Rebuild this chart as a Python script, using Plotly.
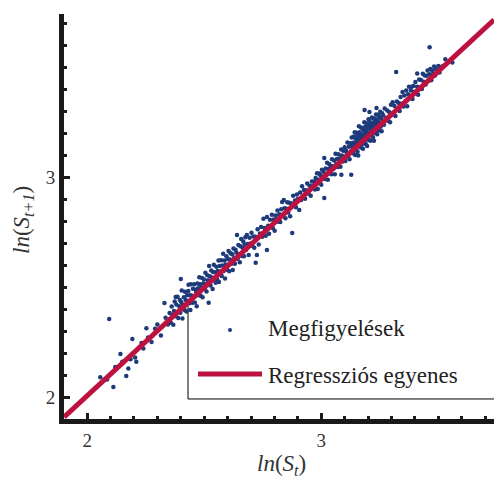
import plotly.graph_objects as go

# Observed log-prices: ln(S_t) and the next-period value ln(S_{t+1})
LN_ST = [
    2.056, 2.094, 2.112, 2.120, 2.142, 2.167, 2.176, 2.185, 2.193, 2.205,
    2.210, 2.232, 2.253, 2.260, 2.275, 2.290, 2.300, 2.315, 2.330, 2.335,
    2.345, 2.085, 2.150, 2.240,
    2.352, 2.357, 2.361, 2.364, 2.368, 2.371, 2.374, 2.377, 2.381, 2.384,
    2.386, 2.389, 2.393, 2.396, 2.398, 2.402, 2.404, 2.407, 2.409, 2.413,
    2.416, 2.418, 2.421, 2.424, 2.427, 2.429, 2.432, 2.436, 2.438, 2.441,
    2.443, 2.446, 2.449, 2.452, 2.455, 2.457, 2.460, 2.463, 2.466, 2.468,
    2.471, 2.474, 2.477, 2.479, 2.482, 2.485, 2.488, 2.491, 2.493, 2.496,
    2.499, 2.502, 2.505, 2.507, 2.510, 2.513, 2.516, 2.519, 2.521, 2.524,
    2.527, 2.530, 2.533, 2.536, 2.538, 2.541, 2.544, 2.547, 2.549, 2.378,
    2.400, 2.433,
    2.552, 2.555, 2.558, 2.561, 2.563, 2.566, 2.569, 2.572, 2.575, 2.578,
    2.581, 2.583, 2.586, 2.589, 2.592, 2.595, 2.598, 2.601, 2.604, 2.607,
    2.610, 2.613, 2.616, 2.619, 2.622, 2.625, 2.628, 2.631, 2.634, 2.637,
    2.640, 2.643, 2.646, 2.649, 2.652, 2.655, 2.658, 2.661, 2.664, 2.667,
    2.670, 2.673, 2.676, 2.679, 2.682, 2.686, 2.690, 2.694, 2.698, 2.702,
    2.706, 2.710, 2.714, 2.719, 2.720, 2.725, 2.728, 2.733, 2.738, 2.743,
    2.748, 2.753, 2.758, 2.763, 2.768, 2.768,
    2.773, 2.777, 2.781, 2.785, 2.789, 2.793, 2.797, 2.801, 2.805, 2.809,
    2.813, 2.817, 2.821, 2.825, 2.829, 2.833, 2.837, 2.840, 2.843, 2.847,
    2.851, 2.855, 2.859, 2.863, 2.867, 2.871, 2.876, 2.880, 2.884, 2.888,
    2.892, 2.896, 2.900, 2.906, 2.910, 2.914, 2.918, 2.922, 2.926, 2.931,
    2.935, 2.940, 2.945, 2.950, 2.955, 2.960, 2.965,
    2.970, 2.973, 2.976, 2.979, 2.982, 2.985, 2.988, 2.991, 2.994, 2.997,
    3.000, 3.003, 3.006, 3.009, 3.013, 3.013, 3.016, 3.019, 3.022, 3.025,
    3.028, 3.031, 3.034, 3.037, 3.040, 3.043, 3.046, 3.049, 3.052, 3.055,
    3.058, 3.061, 3.064, 3.067, 3.070, 3.073, 3.076, 3.079, 3.082, 3.085,
    3.086, 3.088, 3.091, 3.094, 3.097, 3.100, 3.103, 3.106, 3.109, 3.112,
    3.115, 3.118, 3.121, 3.124, 3.127, 3.128, 3.130, 3.133,
    3.136, 3.137, 3.139, 3.140, 3.142, 3.143, 3.145, 3.146, 3.148, 3.149,
    3.151, 3.152, 3.154, 3.155, 3.157, 3.158, 3.160, 3.161, 3.163, 3.164,
    3.166, 3.167, 3.169, 3.170, 3.172, 3.173, 3.175, 3.176, 3.178, 3.179,
    3.181, 3.182, 3.184, 3.185, 3.185, 3.187, 3.188, 3.190, 3.191, 3.193,
    3.194, 3.196, 3.197, 3.199, 3.200, 3.202, 3.203, 3.205, 3.206, 3.207,
    3.209, 3.210, 3.212, 3.213, 3.215, 3.216, 3.218, 3.219, 3.221, 3.222,
    3.224, 3.225, 3.227, 3.228, 3.230, 3.231, 3.233, 3.234, 3.236, 3.236,
    3.238, 3.239, 3.241, 3.243, 3.244, 3.246, 3.248, 3.250, 3.252, 3.254,
    3.256, 3.258, 3.260, 3.262, 3.265, 3.268, 3.271, 3.274,
    3.138, 3.144, 3.150, 3.156, 3.162, 3.168, 3.174, 3.180, 3.186, 3.192,
    3.198, 3.204, 3.210, 3.216, 3.222, 3.228, 3.234, 3.240, 3.246,
    3.278, 3.282, 3.286, 3.290, 3.294, 3.298, 3.302, 3.305, 3.309, 3.313,
    3.317, 3.320, 3.323, 3.327, 3.331, 3.335, 3.339, 3.343, 3.347, 3.351,
    3.355, 3.359, 3.363, 3.367, 3.371, 3.375, 3.379, 3.383, 3.386, 3.390,
    3.394, 3.398, 3.402, 3.406, 3.410, 3.410, 3.414, 3.418, 3.422, 3.426,
    3.430, 3.434, 3.438, 3.442, 3.446, 3.450, 3.454, 3.458, 3.462, 3.463,
    3.466, 3.470, 3.474, 3.478, 3.482, 3.486, 3.490, 3.495, 3.500, 3.505,
    3.510, 3.520, 3.530, 3.560,
]

LN_ST_NEXT = [
    2.090, 2.355, 2.045, 2.136, 2.195, 2.095, 2.130, 2.172, 2.264, 2.180,
    2.160, 2.245, 2.313, 2.270, 2.250, 2.310, 2.330, 2.280, 2.427, 2.360,
    2.330, 2.080, 2.160, 2.220,
    2.382, 2.337, 2.411, 2.374, 2.328, 2.391, 2.434, 2.367, 2.421, 2.384,
    2.456, 2.359, 2.413, 2.441, 2.383, 2.432, 2.484, 2.357, 2.419, 2.453,
    2.396, 2.478, 2.441, 2.389, 2.462, 2.434, 2.482, 2.426, 2.463, 2.396,
    2.513, 2.461, 2.429, 2.492, 2.455, 2.512, 2.430, 2.488, 2.476, 2.413,
    2.516, 2.494, 2.462, 2.544, 2.512, 2.460, 2.498, 2.541, 2.453, 2.516,
    2.534, 2.492, 2.565, 2.512, 2.480, 2.553, 2.531, 2.429, 2.596, 2.549,
    2.507, 2.575, 2.543, 2.491, 2.568, 2.601, 2.539, 2.567, 2.519, 2.455,
    2.536, 2.510,
    2.592, 2.535, 2.573, 2.621, 2.523, 2.596, 2.569, 2.622, 2.550, 2.598,
    2.651, 2.573, 2.621, 2.539, 2.602, 2.640, 2.578, 2.626, 2.664, 2.572,
    2.625, 2.653, 2.606, 2.649, 2.577, 2.675, 2.633, 2.606, 2.669, 2.657,
    2.736, 2.628, 2.691, 2.649, 2.612, 2.685, 2.718, 2.641, 2.679, 2.707,
    2.640, 2.693, 2.726, 2.669, 2.736, 2.696, 2.645, 2.724, 2.698, 2.747,
    2.686, 2.730, 2.679, 2.729, 2.610, 2.645, 2.763, 2.693, 2.743, 2.773,
    2.728, 2.810, 2.768, 2.733, 2.818, 2.668,
    2.778, 2.742, 2.806, 2.775, 2.829, 2.768, 2.807, 2.756, 2.825, 2.809,
    2.848, 2.797, 2.831, 2.795, 2.854, 2.886, 2.827, 2.895, 2.858, 2.812,
    2.856, 2.885, 2.839, 2.883, 2.822, 2.881, 2.745, 2.915, 2.869, 2.893,
    2.862, 2.921, 2.900, 2.850, 2.930, 2.895, 2.958, 2.912, 2.941, 2.901,
    2.940, 2.970, 2.925, 2.960, 2.915, 2.980, 2.960,
    2.980, 2.943, 2.996, 2.969, 3.017, 2.945, 2.988, 3.016, 2.974, 3.007,
    2.965, 3.033, 3.001, 3.024, 3.086, 2.905, 2.991, 3.039, 3.012, 3.065,
    2.988, 3.036, 3.059, 3.017, 3.050, 3.013, 3.081, 3.049, 3.037, 3.075,
    3.013, 3.106, 3.059, 3.082, 3.045, 3.103, 3.066, 3.084, 3.047, 3.125,
    3.010, 3.098, 3.071, 3.119, 3.092, 3.135, 3.073, 3.121, 3.109, 3.157,
    3.095, 3.138, 3.081, 3.154, 3.117, 3.010, 3.180, 3.138,
    3.156, 3.107, 3.184, 3.140, 3.127, 3.203, 3.100, 3.176, 3.158, 3.124,
    3.201, 3.147, 3.189, 3.115, 3.172, 3.098, 3.185, 3.231, 3.153, 3.204,
    3.146, 3.172, 3.134, 3.225, 3.192, 3.148, 3.185, 3.221, 3.128, 3.179,
    3.211, 3.167, 3.249, 3.305, 3.155, 3.202, 3.228, 3.150, 3.216, 3.183,
    3.244, 3.141, 3.202, 3.234, 3.180, 3.262, 3.168, 3.225, 3.295, 3.202,
    3.249, 3.165, 3.222, 3.243, 3.190, 3.271, 3.208, 3.234, 3.181, 3.267,
    3.224, 3.165, 3.252, 3.213, 3.265, 3.201, 3.238, 3.284, 3.314, 3.216,
    3.258, 3.194, 3.251, 3.283, 3.234, 3.211, 3.273, 3.245, 3.297, 3.229,
    3.266, 3.208, 3.290, 3.252, 3.280, 3.238, 3.311, 3.259,
    3.133, 3.156, 3.132, 3.164, 3.150, 3.186, 3.166, 3.192, 3.168, 3.200,
    3.186, 3.222, 3.202, 3.228, 3.204, 3.236, 3.222, 3.258, 3.238,
    3.268, 3.302, 3.256, 3.295, 3.249, 3.328, 3.287, 3.340, 3.284, 3.323,
    3.277, 3.477, 3.343, 3.307, 3.336, 3.300, 3.364, 3.333, 3.387, 3.321,
    3.370, 3.344, 3.393, 3.322, 3.376, 3.410, 3.359, 3.393, 3.410, 3.355,
    3.414, 3.388, 3.432, 3.381, 3.470, 3.410, 3.374, 3.443, 3.407, 3.441,
    3.400, 3.469, 3.433, 3.462, 3.421, 3.460, 3.484, 3.438, 3.467, 3.590,
    3.491, 3.440, 3.484, 3.468, 3.502, 3.461, 3.490, 3.480, 3.505, 3.475,
    3.500, 3.505, 3.535, 3.520,
]

if len(LN_ST) != len(LN_ST_NEXT):
    raise ValueError("ln(S_t) and ln(S_t+1) series differ in length")

# Fitted regression line ln(S_{t+1}) = a + b * ln(S_t)
REG_INTERCEPT = 0.040
REG_SLOPE = 0.983

X_RANGE = [1.901, 3.738]
Y_RANGE = [1.900, 3.741]
X_TICKS = [2, 3]
Y_TICKS = [2, 3]

LEGEND_POINTS = "Megfigyelések"
LEGEND_LINE = "Regressziós egyenes"

POINT_COLOR = "#1d3a7a"
LINE_COLOR = "#bd1240"
AXIS_COLOR = "#1a1a1a"
SERIF = "Liberation Serif"

W, H = 494, 481
M_L, M_R, M_T, M_B = 64, 0, 14, 62

fit_x = list(X_RANGE)
fit_y = [REG_INTERCEPT + REG_SLOPE * v for v in fit_x]

fig = go.Figure()
fig.add_trace(go.Scatter(
    x=LN_ST, y=LN_ST_NEXT, mode="markers", name=LEGEND_POINTS,
    marker=dict(size=4.5, color=POINT_COLOR, line=dict(width=0)),
    showlegend=False,
))
fig.add_trace(go.Scatter(
    x=fit_x, y=fit_y, mode="lines", name=LEGEND_LINE,
    line=dict(color=LINE_COLOR, width=5),
    showlegend=False,
))

axis_common = dict(
    showline=True, linewidth=5, linecolor=AXIS_COLOR, mirror=False,
    ticks="inside", ticklen=6, tickwidth=2.5, tickcolor=AXIS_COLOR,
    showgrid=False, zeroline=False,
    tickfont=dict(family=SERIF, size=19, color="#333333"),
    minor=dict(ticks="inside", dtick=0.1, ticklen=3, tickwidth=2.5,
               tickcolor=AXIS_COLOR, showgrid=False),
)
fig.update_xaxes(range=X_RANGE, tickvals=X_TICKS, **axis_common)
fig.update_yaxes(range=Y_RANGE, tickvals=Y_TICKS, **axis_common)


def px(xp):
    """Horizontal pixel position -> paper fraction."""
    return (xp - M_L) / (W - M_L - M_R)


def py(yp):
    """Vertical pixel position -> paper fraction."""
    return (H - M_B - yp) / (H - M_T - M_B)


# Legend frame: left and bottom edges, the upper end meeting the fitted line
box_x = X_RANGE[0] + px(188) * (X_RANGE[1] - X_RANGE[0])
box_top = REG_INTERCEPT + REG_SLOPE * box_x
box_bottom = 1.991
shapes = [
    dict(type="line", xref="x", yref="y", x0=box_x, x1=box_x, y0=box_top, y1=box_bottom,
         line=dict(color="black", width=1), layer="below"),
    dict(type="line", xref="x", yref="y", x0=box_x, x1=X_RANGE[1], y0=box_bottom, y1=box_bottom,
         line=dict(color="black", width=1), layer="below"),
    dict(type="circle", xref="paper", yref="paper", xsizemode="pixel", ysizemode="pixel",
         xanchor=px(230), yanchor=py(330), x0=-2, x1=2, y0=-2, y1=2,
         fillcolor=POINT_COLOR, line=dict(width=0)),
    dict(type="line", xref="paper", yref="paper", x0=px(198), x1=px(262),
         y0=py(374), y1=py(374), line=dict(color=LINE_COLOR, width=5)),
]

annotations = [
    dict(text=LEGEND_POINTS, xref="paper", yref="paper", x=px(266), y=py(328),
         xanchor="left", yanchor="middle", showarrow=False,
         font=dict(family=SERIF, size=23, color="#222222")),
    dict(text=LEGEND_LINE, xref="paper", yref="paper", x=px(266), y=py(375),
         xanchor="left", yanchor="middle", showarrow=False,
         font=dict(family=SERIF, size=23, color="#222222")),
    dict(text="<i>ln</i>(<i>S<sub>t</sub></i>)", xref="paper", yref="paper",
         x=px(281), y=py(465), xanchor="center", yanchor="middle", showarrow=False,
         font=dict(family=SERIF, size=23, color="#333333")),
    dict(text="<i>ln</i>(<i>S<sub>t+1</sub></i>)", xref="paper", yref="paper",
         x=px(23), y=py(220), xanchor="center", yanchor="middle", showarrow=False,
         textangle=-90, font=dict(family=SERIF, size=23, color="#333333")),
]

fig.update_layout(
    width=W, height=H,
    margin=dict(l=M_L, r=M_R, t=M_T, b=M_B),
    paper_bgcolor="white", plot_bgcolor="white",
    shapes=shapes, annotations=annotations,
    showlegend=False,
)

fig.write_html("out.html")
